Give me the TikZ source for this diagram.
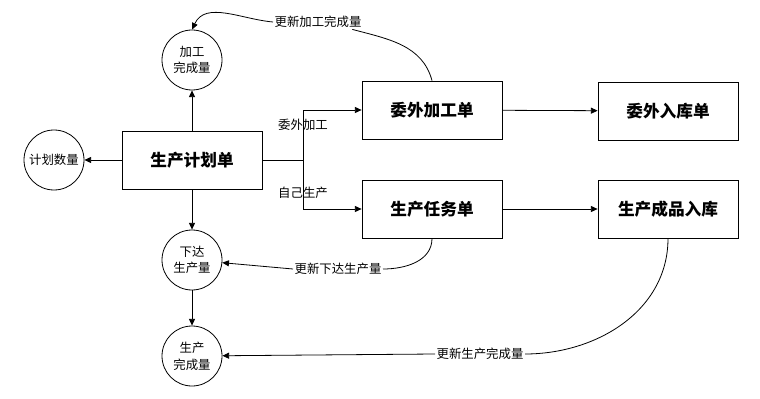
\documentclass[tikz,border=0pt]{standalone}
\usepackage{fontspec}
\setmainfont{Noto Sans CJK SC}
\usetikzlibrary{arrows.meta, positioning}
\tikzset{
  box/.style={rectangle, draw, line width=0.6pt, minimum width=105pt,
              minimum height=43.5pt, font=\fontsize{12.5}{15}\selectfont\bfseries},
  qty/.style={circle, draw, line width=0.6pt, minimum size=45pt, inner sep=0pt,
              align=center, font=\fontsize{9.3}{12.5}\selectfont},
  arrow/.style={-{Triangle[length=5pt,width=4.5pt]}, line width=0.6pt},
  lbl/.style={font=\fontsize{9.3}{11}\selectfont, inner sep=1pt},
}

\begin{document}
\begin{tikzpicture}[x=0.75pt, y=-0.75pt]
  \useasboundingbox (0,0) rectangle (760,399);

  % documents
  \node[box] (plan) at (192,160) {生产计划单};
  \node[box] (wwjg) at (432,110) {委外加工单};
  \node[box] (wwrk) at (668,111) {委外入库单};
  \node[box] (scrw) at (432,209) {生产任务单};
  \node[box] (cprk) at (668,209) {生产成品入库};

  % quantities
  \node[qty] (jgwc) at (192,60) {加工\\完成量};
  \node[qty] (jhsl) at (54,160) {计划数量};
  \node[qty] (xdsc) at (192,260) {下达\\生产量};
  \node[qty] (scwc) at (192,356) {生产\\完成量};

  % main flow
  \draw[arrow] (plan) -- (jgwc);
  \draw[arrow] (plan) -- (jhsl);
  \draw[arrow] (plan) -- (xdsc);
  \draw[arrow] (xdsc) -- (scwc);
  \coordinate (split) at (303,160);
  \draw[line width=0.6pt] (plan) -- (split);
  \draw[arrow] (split) |- node[lbl, pos=0.35] {委外加工} (wwjg);
  \draw[arrow] (split) |- node[lbl, pos=0.33] {自己生产} (scrw);
  \draw[arrow] (wwjg) -- (wwrk);
  \draw[arrow] (scrw) -- (cprk);

  % updates
  \node[lbl] (upd1) at (318,22) {更新加工完成量};
  \node[lbl] (upd2) at (338,269) {更新下达生产量};
  \node[lbl] (upd3) at (480,354) {更新生产完成量};
  \draw[line width=0.6pt] (wwjg.north) to[out=105,in=-15] ([xshift=-8pt]upd1.south east);
  \draw[arrow] (upd1.west) to[out=175,in=65] (jgwc.north);
  \draw[line width=0.6pt] (scrw.south) to[out=-90,in=0] (upd2.east);
  \draw[arrow] (upd2.west) -- (xdsc);
  \draw[line width=0.6pt] (cprk.south) to[out=-90,in=0] (upd3.east);
  \draw[arrow] (upd3.west) -- (scwc);
\end{tikzpicture}
\end{document}
